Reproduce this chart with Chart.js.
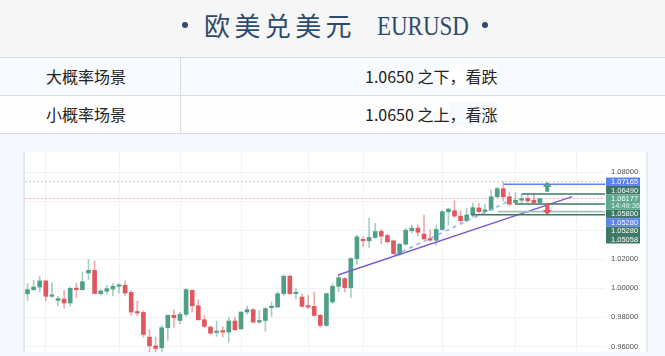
<!DOCTYPE html>
<html><head><meta charset="utf-8">
<script src="https://cdn.jsdelivr.net/npm/chart.js@4"></script>
<style>
html,body{margin:0;padding:0}
body{width:665px;height:356px;overflow:hidden;position:relative;background:#f5f9ff;font-family:"Noto Sans CJK SC",sans-serif;}
#hdr{position:absolute;left:0;top:0;width:665px;height:57px;background:#f6f6f6;border-bottom:1px solid #dcdcdc;}
.dot{position:absolute;width:6px;height:6px;border-radius:50%;background:#2d4b6d;}
#cjk{position:absolute;left:204px;top:12px;font-size:26px;line-height:26px;letter-spacing:4.4px;color:#2d4b6d;white-space:nowrap;}
#lat{position:absolute;left:377px;top:11.5px;font-family:"Liberation Serif",serif;font-size:28px;line-height:28px;color:#2d4b6d;transform:scaleX(0.82);transform-origin:0 0;white-space:nowrap;}
.row{position:absolute;left:0;width:665px;height:37px;border-bottom:1px solid #dcdcdc}
#row1{top:58px;background:#f7fbff}
#row2{top:96px;background:#fefefe}
#vline{position:absolute;left:180px;top:58px;width:1px;height:76px;background:#dcdcdc}
.cell{position:absolute;top:0;font-size:16px;line-height:37px;color:#222;white-space:nowrap}
#panel{position:absolute;left:23px;top:152px;width:625px;height:200px;background:#fff}
#lstrip{position:absolute;left:23px;top:152px;width:2px;height:200px;background:#e2e5eb}
#rstrip{position:absolute;left:646px;top:152px;width:2px;height:200px;background:#e6e9ef}
#c{position:absolute;left:25px;top:152px}
</style></head>
<body>
<div id="hdr"></div>
<div class="dot" style="left:182px;top:22px"></div>
<div id="cjk">欧美兑美元</div>
<div id="lat">EURUSD</div>
<div class="dot" style="left:482px;top:22px"></div>
<div class="row" id="row1"><span class="cell" style="left:46px">大概率场景</span><span class="cell" style="left:365px">1.0650 之下<span style="background:#ffffff">，看跌</span></span></div>
<div class="row" id="row2"><span class="cell" style="left:46px">小概率场景</span><span class="cell" style="left:365px">1.0650 之上<span style="background:#f7faff">，看涨</span></span></div>
<div id="vline"></div>
<div id="panel"></div>
<div id="lstrip"></div>
<canvas id="c" width="621" height="200"></canvas>
<div id="rstrip"></div>
<script>
// ---- data (EURUSD candles, oldest -> newest) ----
const openP  = [0.9963,0.9991,1.0009,1.0051,0.9945,0.9917,0.9926,0.9899,1.0000,0.9991,
                1.0106,1.0124,0.9963,0.9980,0.9995,1.0014,1.0021,0.9972,0.9839,0.9834,
                0.9664,0.9604,0.9591,0.9729,0.9814,0.9779,0.9821,0.9986,0.9880,0.9784,
                0.9733,0.9696,0.9706,0.9699,0.9775,0.9722,0.9837,0.9853,0.9768,0.9779,
                0.9867,0.9871,0.9963,1.0083,0.9963,0.9940,0.9878,0.9876,0.9814,0.9745,
                0.9906,1.0014,1.0067,1.0005,1.0205,1.0336,1.0327,1.0350,1.0391,1.0363,
                1.0327,1.0235,1.0304,1.0396,1.0414,1.0373,1.0343,1.0331,1.0405,1.0527,
                1.0534,1.0497,1.0465,1.0505,1.0553,1.0528,1.0540,1.0630,1.0685,1.0630,
                1.0590,1.0606,1.0618,1.0606,1.0590];
const highP  = [1.0032,1.0055,1.0083,1.0055,1.0037,0.9945,0.9986,1.0009,1.0037,1.0113,
                1.0200,1.0189,0.9991,1.0021,1.0032,1.0032,1.0051,0.9986,0.9913,0.9844,
                0.9715,0.9664,0.9745,0.9818,0.9853,0.9837,0.9998,0.9991,0.9922,0.9814,
                0.9742,0.9775,0.9738,0.9802,0.9802,0.9837,0.9876,0.9860,0.9848,0.9871,
                0.9906,0.9975,1.0092,1.0092,0.9998,0.9963,0.9952,0.9975,0.9821,0.9968,
                1.0032,1.0090,1.0074,1.0210,1.0366,1.0354,1.0481,1.0446,1.0405,1.0373,
                1.0331,1.0308,1.0412,1.0435,1.0437,1.0504,1.0405,1.0435,1.0538,1.0550,
                1.0603,1.0534,1.0550,1.0585,1.0584,1.0580,1.0676,1.0695,1.0734,1.0659,
                1.0659,1.0652,1.0647,1.0652,1.0620];
const lowP   = [0.9917,0.9986,0.9975,0.9913,0.9940,0.9880,0.9864,0.9876,0.9936,0.9986,
                1.0060,0.9960,0.9952,0.9959,0.9949,0.9968,0.9952,0.9814,0.9811,0.9664,
                0.9554,0.9549,0.9558,0.9641,0.9733,0.9756,0.9807,0.9837,0.9779,0.9729,
                0.9683,0.9669,0.9664,0.9630,0.9710,0.9715,0.9821,0.9761,0.9756,0.9706,
                0.9807,0.9871,0.9952,0.9959,0.9929,0.9871,0.9860,0.9807,0.9733,0.9738,
                0.9894,0.9975,0.9975,0.9936,1.0166,1.0285,1.0281,1.0343,1.0308,1.0313,
                1.0235,1.0228,1.0297,1.0382,1.0359,1.0336,1.0327,1.0297,1.0400,1.0435,
                1.0488,1.0451,1.0458,1.0490,1.0515,1.0515,1.0534,1.0625,1.0602,1.0568,
                1.0579,1.0584,1.0591,1.0579,1.0588];
const closeP = [0.9991,1.0009,1.0051,0.9945,0.9954,0.9929,0.9899,1.0000,0.9991,1.0046,
                1.0124,0.9965,0.9982,0.9998,1.0014,1.0023,0.9968,0.9837,0.9830,0.9683,
                0.9604,0.9586,0.9729,0.9814,0.9798,0.9821,0.9991,0.9880,0.9784,0.9738,
                0.9692,0.9706,0.9699,0.9775,0.9715,0.9837,0.9853,0.9768,0.9779,0.9860,
                0.9876,0.9963,1.0083,0.9963,0.9968,0.9876,0.9871,0.9814,0.9745,0.9963,
                1.0014,1.0074,1.0005,1.0205,1.0354,1.0327,1.0350,1.0391,1.0359,1.0320,
                1.0239,1.0304,1.0400,1.0414,1.0386,1.0340,1.0331,1.0405,1.0527,1.0545,
                1.0497,1.0465,1.0505,1.0555,1.0528,1.0540,1.0630,1.0685,1.0630,1.0579,
                1.0606,1.0618,1.0602,1.0590,1.06177];
const gridIdx      = [3,15,25,35,46,55,68,80,90];
const yStep        = 0.02;
const periodHigh   = 1.0734;
const levelPrices  = [1.07165,1.06490,1.05800,1.05280,1.05058];
const levelFrom    = [78.1,81.0,79.9,77.1,72.8];
const badgePrices  = [1.07165,1.06490,1.05800,1.05280,1.05280,1.05058];
const timeLabel    = '14:49:36';
const trendA       = [[50.9,1.00915],[89.3,1.0631]];
const trendB       = [[60.2,1.0229],[78.6,1.0594]];
const arrowUp      = [85.2,1.0664,1.0733];
const arrowDown    = [85.2,1.0587,1.0504];
const X_MIN=-0.41, X_MAX=94.67, Y_MIN=0.9562, Y_MAX=1.0938;

// ---- styles ----
const GREEN='#4f9f87', RED='#e0585e', GREEN_W='rgba(79,159,135,0.5)', RED_W='rgba(224,88,94,0.5)';
const levelColors=['#5b82f3','#3d7865','#3d7865','#a9c2b7','#3d7865'];
const badgeColors=['#5b82f3','#3d7865','#3d7865','#5b82f3','#3d7865','#3d7865'];
const GRID='#f1f3f6';

const idx = openP.map((_,i)=>i);
const isUp = i => closeP[i] >= openP[i];
const lastClose = closeP[closeP.length-1];

const lineDs = (pts, color, width, dash, order) => ({
  type:'line', data: pts.map(p=>({x:p[0],y:p[1]})), borderColor:color, borderWidth:width,
  borderDash:dash, pointRadius:0, fill:false, tension:0, order
});

const datasets = [
  lineDs([[X_MIN,periodHigh],[X_MAX,periodHigh]], '#cfcfcf', 1.2, [2,2], 6),
  lineDs([[X_MIN,lastClose],[X_MAX,lastClose]], 'rgba(236,110,110,0.55)', 1, [2,2], 5),
  { type:'bar', data: idx.map(i=>({x:i,y:[lowP[i],highP[i]]})),
    backgroundColor: idx.map(i=>isUp(i)?GREEN_W:RED_W), barThickness:1, grouped:false, order:4 },
  { type:'bar', data: idx.map(i=>({x:i,y:[openP[i],closeP[i]]})),
    backgroundColor: idx.map(i=>isUp(i)?GREEN:RED), barThickness:4, minBarLength:1.5, grouped:false, order:3 },
  lineDs(trendA, '#7e5bd6', 1.5, [], 2),
  lineDs(trendB, '#8db2f5', 1.5, [4,4], 2),
  ...levelPrices.map((p,k)=>lineDs([[levelFrom[k],p],[X_MAX,p]], levelColors[k], 1.6, [], 1))
];

const overlay = {
  id:'overlay',
  afterDatasetsDraw(chart){
    const ctx=chart.ctx, xs=chart.scales.x, ys=chart.scales.y;
    const arrow=(a,color,upDir)=>{
      const x=xs.getPixelForValue(a[0]), y0=ys.getPixelForValue(a[1]), y1=ys.getPixelForValue(a[2]);
      const dir = upDir?-1:1, head=5, hw=4.5, sw=2;
      const hb = y1 - dir*head;
      ctx.save(); ctx.fillStyle=color; ctx.beginPath();
      ctx.moveTo(x-sw,y0); ctx.lineTo(x-sw,hb); ctx.lineTo(x-hw,hb); ctx.lineTo(x,y1);
      ctx.lineTo(x+hw,hb); ctx.lineTo(x+sw,hb); ctx.lineTo(x+sw,y0); ctx.closePath(); ctx.fill(); ctx.restore();
    };
    arrow(arrowUp,GREEN,true);
    arrow(arrowDown,RED,false);
  },
  afterDraw(chart){
    const ctx=chart.ctx, ys=chart.scales.y, area=chart.chartArea;
    const bh=8.4, bx=area.right+1, bw=34, tx=area.right+6;
    ctx.save();
    ctx.font='7.5px "Liberation Sans", Arial, sans-serif';
    ctx.textBaseline='middle'; ctx.textAlign='left';
    const curY=ys.getPixelForValue(lastClose);
    const curTop=curY-4.2, curBot=curTop+15.5;
    const items=badgePrices.map((p,k)=>({p,k}));
    const above=items.filter(b=>b.p>lastClose).sort((a,b)=>a.p-b.p);
    const below=items.filter(b=>b.p<=lastClose).sort((a,b)=>b.p-a.p || a.k-b.k);
    let lim=curTop;
    above.forEach(b=>{b.c=Math.min(ys.getPixelForValue(b.p),lim-bh/2); lim=b.c-bh/2;});
    lim=curBot;
    below.forEach(b=>{b.c=Math.max(ys.getPixelForValue(b.p),lim+bh/2); lim=b.c+bh/2;});
    [...above,...below].forEach(b=>{
      ctx.fillStyle=badgeColors[b.k]; ctx.fillRect(bx,b.c-bh/2,bw,bh);
      ctx.fillStyle='#ffffff'; ctx.fillText(b.p.toFixed(5),tx,b.c+0.3);
    });
    ctx.fillStyle='#5ea98f'; ctx.fillRect(bx,curTop,bw,curBot-curTop);
    ctx.fillStyle='#ffffff';
    ctx.fillText(lastClose.toFixed(5),tx,curY+0.3);
    ctx.fillStyle='#e8f4ee';
    ctx.fillText(timeLabel,tx,curY+7);
    ctx.restore();
  }
};

new Chart(document.getElementById('c'), {
  type:'bar',
  data:{ datasets },
  options:{
    responsive:false, animation:false, events:[],
    layout:{padding:0, autoPadding:false},
    plugins:{legend:{display:false}, tooltip:{enabled:false}},
    scales:{
      x:{ type:'linear', min:X_MIN, max:X_MAX, offset:false,
          afterBuildTicks(s){ s.ticks=gridIdx.map(v=>({value:v})); },
          afterFit(s){ s.height=0; s.paddingTop=0; s.paddingBottom=0; },
          ticks:{display:false}, grid:{offset:false, color:GRID, drawTicks:false}, border:{display:false} },
      y:{ position:'right', min:Y_MIN, max:Y_MAX,
          afterFit(s){ s.width=41; s.paddingTop=0; s.paddingBottom=0; },
          ticks:{stepSize:yStep, includeBounds:false, padding:6, color:'#4a4a4a',
                 font:{size:7.5, family:'"Liberation Sans", Arial, sans-serif'},
                 callback:v=>Number(v).toFixed(5)},
          grid:{color:GRID, drawTicks:false}, border:{display:false} }
    }
  },
  plugins:[overlay]
});
</script>
</body></html>
